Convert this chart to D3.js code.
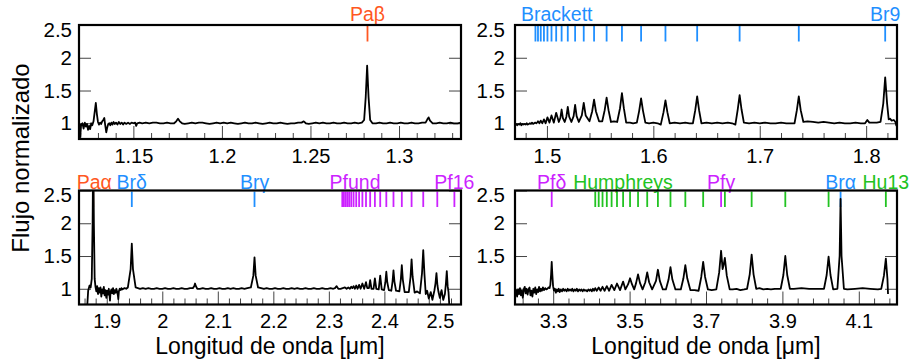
<!DOCTYPE html>
<html>
<head>
<meta charset="utf-8">
<script src="https://cdn.jsdelivr.net/npm/d3@7"></script>
<style>
  body { margin: 0; background: #fff; }
  text { font-family: "Liberation Sans", Arial, Helvetica, sans-serif; }
</style>
</head>
<body>
<svg id="chart" width="910" height="360"></svg>
<script>
// ---- data: normalised flux vs wavelength (um) ----
const specJ = [
  [1.1195,1.00],[1.1200,0.79],[1.1205,0.98],[1.1212,1.00],[1.1219,0.92],[1.1226,1.01],[1.1232,0.95],[1.1238,0.99],
  [1.1244,0.90],[1.1250,0.96],[1.1256,0.91],[1.1262,1.00],[1.1268,0.97],[1.1275,1.03],[1.1282,1.18],[1.1288,1.31],
  [1.1294,1.14],[1.1300,1.02],[1.1306,0.98],[1.1312,1.01],[1.1318,0.99],[1.1324,1.03],[1.1330,1.05],[1.1336,1.08],
  [1.1341,0.97],[1.1347,0.86],[1.1352,0.93],[1.1358,0.99],[1.1364,1.00],[1.1370,0.97],[1.1376,1.01],[1.1382,0.98],
  [1.1388,1.02],[1.1395,0.99],[1.1402,1.01],[1.1410,0.98],[1.1418,1.02],[1.1426,0.99],[1.1434,1.01],[1.1442,0.98],
  [1.1450,1.01],[1.1460,0.99],[1.1470,1.01],[1.1480,0.99],[1.1490,1.01],[1.1500,1.00],[1.1510,1.01],[1.1516,0.96],
  [1.1522,1.00],[1.1535,1.01],[1.1550,1.00],[1.1570,1.01],[1.1590,1.00],[1.1610,1.01],[1.1630,1.01],[1.1650,1.00],
  [1.1670,1.00],[1.1690,1.01],[1.1710,1.00],[1.1730,1.00],[1.1742,1.03],[1.1752,1.07],[1.1762,1.03],[1.1775,1.00],
  [1.1790,0.99],[1.1810,1.00],[1.1830,1.01],[1.1850,1.00],[1.1870,1.01],[1.1890,1.01],[1.1910,1.00],[1.1930,0.99],
  [1.1950,1.00],[1.1970,1.01],[1.1990,1.00],[1.2010,1.01],[1.2030,1.00],[1.2050,1.01],[1.2070,1.00],[1.2090,0.99],
  [1.2110,1.00],[1.2130,1.01],[1.2150,1.00],[1.2170,1.00],[1.2190,1.01],[1.2210,1.00],[1.2230,0.99],[1.2250,1.00],
  [1.2270,1.01],[1.2290,1.00],[1.2310,1.00],[1.2330,1.01],[1.2350,1.00],[1.2370,0.99],[1.2390,1.00],[1.2410,1.00],
  [1.2430,1.01],[1.2450,1.01],[1.2462,1.03],[1.2474,1.00],[1.2490,0.99],[1.2510,1.00],[1.2530,1.01],[1.2550,1.00],
  [1.2570,1.01],[1.2590,1.00],[1.2610,1.00],[1.2630,1.01],[1.2650,1.00],[1.2670,1.00],[1.2690,1.01],[1.2710,1.00],
  [1.2730,1.00],[1.2750,1.01],[1.2770,1.00],[1.2790,1.01],[1.2803,1.05],[1.2812,1.40],[1.2820,1.88],[1.2828,1.40],
  [1.2837,1.05],[1.2850,1.00],[1.2870,1.00],[1.2890,1.01],[1.2910,1.00],[1.2930,1.00],[1.2950,1.01],[1.2970,1.00],
  [1.2990,1.00],[1.3010,1.01],[1.3030,1.00],[1.3050,1.00],[1.3070,1.01],[1.3090,1.00],[1.3110,1.00],[1.3130,1.01],
  [1.3150,1.01],[1.3160,1.06],[1.3167,1.09],[1.3175,1.04],[1.3190,1.00],[1.3210,1.00],[1.3230,1.01],[1.3250,1.00],
  [1.3270,1.00],[1.3290,1.01],[1.3310,1.00],[1.3330,1.00],[1.3350,1.01]
];

const specH = [
  [1.4700,0.97],[1.4710,0.99],[1.4720,0.97],[1.4730,0.99],[1.4740,0.98],[1.4750,1.00],[1.4760,0.97],[1.4770,0.99],
  [1.4780,0.98],[1.4790,0.99],[1.4800,0.98],[1.4810,1.00],[1.4820,0.98],[1.4830,0.99],[1.4840,1.00],[1.4850,0.99],
  [1.4860,1.01],[1.4870,0.99],[1.4880,1.00],[1.4890,1.01],[1.4900,1.00],[1.4908,1.01],
  [1.4916,1.03],[1.4929,1.00],[1.4942,1.04],[1.4957,1.00],[1.4972,1.06],[1.4988,1.00],[1.5005,1.09],[1.5024,1.01],
  [1.5043,1.12],[1.5065,1.01],[1.5087,1.16],[1.5112,1.02],[1.5126,1.08],[1.5138,1.21],[1.5150,1.08],[1.5167,1.02],
  [1.5183,1.10],[1.5196,1.25],[1.5209,1.10],[1.5230,1.02],[1.5251,1.11],[1.5265,1.28],[1.5279,1.11],[1.5300,1.02],
  [1.5328,1.12],[1.5346,1.31],[1.5364,1.12],[1.5400,1.03],[1.5425,1.18],[1.5443,1.36],[1.5461,1.18],[1.5490,1.03],
  [1.5520,1.03],[1.5543,1.20],[1.5561,1.39],[1.5579,1.20],[1.5602,1.02],[1.5630,1.03],[1.5660,1.02],
  [1.5687,1.23],[1.5705,1.46],[1.5723,1.23],[1.5745,1.01],[1.5780,1.01],[1.5810,1.00],[1.5845,1.01],
  [1.5867,1.19],[1.5885,1.38],[1.5903,1.19],[1.5925,1.01],[1.5960,1.00],[1.6000,1.01],[1.6040,1.00],[1.6070,0.98],
  [1.6096,1.17],[1.6114,1.35],[1.6132,1.17],[1.6154,1.00],[1.6200,1.01],[1.6250,1.00],[1.6300,1.01],[1.6340,1.00],
  [1.6372,1.00],[1.6394,1.20],[1.6412,1.41],[1.6430,1.20],[1.6452,1.00],[1.6500,1.01],[1.6550,1.00],[1.6600,1.01],
  [1.6650,1.00],[1.6700,1.01],[1.6740,1.00],[1.6771,0.98],[1.6793,1.21],[1.6811,1.43],[1.6829,1.21],[1.6851,1.01],
  [1.6900,1.00],[1.6950,1.01],[1.7000,1.00],[1.7050,1.01],[1.7100,1.00],[1.7150,1.00],[1.7200,1.01],[1.7250,1.00],
  [1.7300,1.00],[1.7327,1.00],[1.7349,1.20],[1.7367,1.41],[1.7385,1.20],[1.7410,1.02],[1.7450,1.03],[1.7500,1.02],
  [1.7550,1.01],[1.7600,1.02],[1.7650,1.01],[1.7700,1.00],[1.7750,1.01],[1.7800,1.00],[1.7850,1.00],[1.7900,1.01],
  [1.7950,1.00],[1.7990,1.00],[1.8011,1.05],[1.8030,1.01],[1.8070,1.01],[1.8100,1.01],[1.8135,1.02],[1.8161,1.30],
  [1.8179,1.70],[1.8197,1.30],[1.8212,1.06],[1.8224,1.07],[1.8240,1.04],[1.8260,1.05],[1.8275,1.02],[1.8285,0.96]
];

const specK = [
  [1.8650,0.76],[1.8665,0.97],[1.8690,1.05],[1.8710,1.02],[1.8730,1.15],[1.8745,2.00],[1.8756,3.20],[1.8768,2.00],
  [1.8782,1.15],[1.8797,1.03],[1.8812,0.96],[1.8827,1.04],[1.8842,0.92],[1.8857,1.01],[1.8872,0.94],[1.8887,1.02],
  [1.8902,0.88],[1.8917,0.99],[1.8932,0.93],[1.8947,1.03],[1.8962,0.90],[1.8977,0.98],[1.8992,0.86],[1.9007,0.97],
  [1.9022,0.91],[1.9037,1.00],[1.9050,0.89],[1.9058,0.82],[1.9068,0.95],[1.9083,0.99],[1.9098,0.93],[1.9113,1.01],
  [1.9128,0.92],[1.9143,0.98],[1.9158,0.94],[1.9173,1.00],[1.9188,0.95],[1.9200,0.90],[1.9208,0.84],[1.9218,0.96],
  [1.9233,1.00],[1.9250,0.98],[1.9265,1.01],[1.9280,0.99],[1.9300,1.00],[1.9320,1.01],[1.9350,1.00],[1.9380,1.02],
  [1.9430,1.30],[1.9451,1.69],[1.9472,1.30],[1.9520,1.02],[1.9560,1.01],[1.9600,1.00],[1.9650,1.01],[1.9700,1.00],
  [1.9750,1.01],[1.9800,1.00],[1.9850,1.00],[1.9900,1.01],[1.9950,1.00],[2.0000,1.00],[2.0050,1.01],[2.0100,1.00],
  [2.0150,1.00],[2.0200,1.01],[2.0250,1.00],[2.0300,1.00],[2.0350,1.01],[2.0400,1.00],[2.0450,1.00],[2.0500,1.01],
  [2.0550,1.01],[2.0575,1.04],[2.0590,1.08],[2.0605,1.04],[2.0630,1.00],[2.0680,1.00],[2.0730,1.01],[2.0780,1.00],
  [2.0830,1.00],[2.0880,1.01],[2.0930,1.00],[2.0980,1.00],[2.1030,1.01],[2.1080,1.00],[2.1130,1.00],[2.1180,1.01],
  [2.1230,1.00],[2.1280,1.01],[2.1330,1.00],[2.1380,1.00],[2.1430,1.01],[2.1480,1.00],[2.1530,1.01],[2.1595,1.02],
  [2.1640,1.20],[2.1661,1.48],[2.1682,1.20],[2.1725,1.02],[2.1780,1.01],[2.1830,1.00],[2.1880,1.01],[2.1930,1.00],
  [2.1980,1.00],[2.2030,1.01],[2.2080,1.00],[2.2130,1.00],[2.2180,1.01],[2.2230,1.00],[2.2280,1.00],[2.2330,1.01],
  [2.2380,1.00],[2.2430,1.01],[2.2480,1.00],[2.2530,1.00],[2.2580,1.01],[2.2630,1.00],[2.2680,1.00],[2.2730,1.01],
  [2.2780,1.00],[2.2830,1.00],[2.2880,1.01],[2.2930,1.00],[2.2980,1.00],[2.3030,1.01],[2.3080,1.00],[2.3110,1.01],
  [2.3140,1.04],[2.3170,1.00],[2.3210,1.00],[2.3250,1.01],[2.3290,1.02],[2.3320,1.00],[2.3350,1.02],[2.3380,1.00],
  [2.3403,1.03],[2.3425,1.01],[2.3445,1.04],[2.3470,1.00],[2.3493,1.05],[2.3518,1.00],[2.3545,1.06],[2.3572,1.00],
  [2.3604,1.08],[2.3636,1.00],[2.3669,1.10],[2.3692,1.01],[2.3722,1.01],[2.3744,1.13],[2.3768,1.00],[2.3805,1.00],
  [2.3829,1.16],[2.3855,1.00],[2.3898,0.99],[2.3925,1.20],[2.3952,0.99],[2.3995,0.98],[2.4018,1.10],[2.4035,1.26],
  [2.4052,1.10],[2.4080,0.98],[2.4125,0.97],[2.4147,1.11],[2.4164,1.28],[2.4181,1.11],[2.4210,0.97],[2.4270,0.96],
  [2.4296,1.14],[2.4314,1.36],[2.4332,1.14],[2.4365,0.95],[2.4440,0.95],[2.4471,1.18],[2.4490,1.45],[2.4509,1.18],
  [2.4545,0.94],[2.4590,0.96],[2.4640,0.93],[2.4678,1.24],[2.4700,1.59],[2.4722,1.22],[2.4745,0.92],[2.4770,0.97],
  [2.4800,0.85],[2.4835,0.95],[2.4865,0.83],[2.4900,0.97],[2.4920,1.08],[2.4938,1.24],[2.4956,1.05],[2.4975,0.95],
  [2.5000,0.86],[2.5030,0.98],[2.5060,0.83],[2.5090,0.92],[2.5108,1.08],[2.5124,1.27],[2.5140,1.04],[2.5155,0.95],
  [2.5170,0.74]
];

const specL = [
  [3.2000,0.94],[3.2030,0.98],[3.2055,0.88],[3.2080,0.99],[3.2105,0.92],[3.2130,1.01],[3.2155,0.90],[3.2180,0.97],
  [3.2205,0.86],[3.2230,0.99],[3.2255,1.03],[3.2280,0.93],[3.2305,1.00],[3.2330,0.91],[3.2355,0.99],[3.2380,1.02],
  [3.2405,0.90],[3.2430,0.97],[3.2455,0.88],[3.2480,1.00],[3.2505,0.94],[3.2530,1.02],[3.2555,0.92],[3.2580,0.99],
  [3.2605,0.95],[3.2630,1.03],[3.2655,0.96],[3.2680,1.00],[3.2705,0.97],[3.2730,1.02],[3.2760,0.98],[3.2790,1.01],
  [3.2820,0.99],[3.2850,1.00],[3.2880,1.02],[3.2905,1.01],[3.2925,1.06],[3.2945,1.22],[3.2961,1.41],[3.2977,1.22],
  [3.2997,1.04],[3.3020,0.97],[3.3045,1.00],[3.3070,0.94],[3.3095,0.99],[3.3120,0.96],[3.3145,1.00],[3.3170,0.95],
  [3.3200,0.99],[3.3230,0.96],[3.3260,1.00],[3.3290,0.97],[3.3320,0.99],[3.3350,0.96],[3.3380,1.00],[3.3410,0.97],
  [3.3440,0.99],[3.3470,0.97],[3.3500,1.00],[3.3530,0.96],[3.3560,0.99],[3.3590,0.97],[3.3620,1.00],[3.3650,0.96],
  [3.3680,0.99],[3.3710,0.97],[3.3740,0.99],[3.3770,0.96],[3.3800,0.99],[3.3830,0.97],[3.3860,0.98],[3.3890,0.96],
  [3.3920,0.99],[3.3950,0.97],[3.3980,0.99],[3.4010,0.96],[3.4040,1.00],[3.4070,0.97],[3.4101,1.01],[3.4140,0.97],
  [3.4191,1.02],[3.4240,0.97],[3.4291,1.03],[3.4345,0.97],[3.4403,1.04],[3.4465,0.97],[3.4529,1.06],[3.4600,0.98],
  [3.4670,1.08],[3.4750,0.98],[3.4830,1.11],[3.4890,0.99],[3.4962,1.07],[3.5012,1.16],[3.5062,1.07],[3.5120,0.99],
  [3.5171,1.09],[3.5221,1.22],[3.5271,1.09],[3.5340,0.99],[3.5411,1.10],[3.5461,1.25],[3.5511,1.10],[3.5590,0.99],
  [3.5691,1.12],[3.5741,1.29],[3.5791,1.12],[3.5870,0.99],[3.5950,0.99],[3.6020,1.14],[3.6070,1.33],[3.6120,1.14],
  [3.6200,0.99],[3.6340,0.99],[3.6409,1.16],[3.6459,1.36],[3.6509,1.16],[3.6590,0.98],[3.6700,0.98],[3.6806,0.97],
  [3.6876,1.18],[3.6926,1.41],[3.6976,1.18],[3.7050,0.99],[3.7150,0.98],[3.7270,0.99],[3.7345,1.25],[3.7395,1.58],
  [3.7435,1.30],[3.7460,1.36],[3.7494,1.47],[3.7544,1.20],[3.7620,0.99],[3.7700,0.99],[3.7800,1.00],[3.7900,0.98],
  [3.8000,0.99],[3.8075,1.00],[3.8145,1.22],[3.8195,1.52],[3.8245,1.22],[3.8315,1.00],[3.8400,1.01],[3.8500,0.99],
  [3.8600,1.00],[3.8700,0.99],[3.8800,1.00],[3.8956,1.00],[3.9026,1.21],[3.9076,1.50],[3.9126,1.21],[3.9196,1.00],
  [3.9300,1.00],[3.9500,1.01],[3.9700,1.00],[3.9900,1.00],[4.0089,1.00],[4.0159,1.21],[4.0209,1.49],[4.0259,1.21],
  [4.0329,0.99],[4.0440,1.00],[4.0498,1.50],[4.0523,2.37],[4.0548,1.50],[4.0610,1.00],[4.0700,0.99],[4.0900,1.00],
  [4.1100,1.01],[4.1300,1.00],[4.1500,0.99],[4.1588,1.00],[4.1658,1.20],[4.1708,1.46],[4.1750,1.15],[4.1765,0.92]
];

// line identifications (um)
const paschenWl  = [1.2822, 1.8756];
const brackettWl = [1.8179, 1.7367, 1.6811, 1.6412, 1.6114, 1.5885, 1.5705, 1.5561, 1.5443, 1.5346,
                    1.5265, 1.5196, 1.5138, 1.5087, 1.5043, 1.5005, 1.4972, 1.4942, 1.4916, 1.4892,
                    1.9451, 2.1661, 4.0523];
const pfundWl    = [2.5261, 2.4953, 2.4700, 2.4490, 2.4314, 2.4164, 2.4035, 2.3925, 2.3829, 2.3744,
                    2.3669, 2.3604, 2.3545, 2.3493, 2.3445, 2.3403, 2.3365, 2.3330, 2.3298, 2.3269,
                    2.3242, 3.7395, 3.2961];
const humphreysWl = [4.1708, 4.0209, 3.9076, 3.8195, 3.7494, 3.6926, 3.6459, 3.6070, 3.5741, 3.5461,
                     3.5221, 3.5012, 3.4830, 3.4670, 3.4529, 3.4403, 3.4291, 3.4191, 3.4101];

const labelsJ = [["Paβ", 1.2822, "pa"]];
const labelsH = [["Brackett", 1.5092, "br"], ["Br9", 1.8179, "br"]];
const labelsK = [["Paα", 1.8775, "pa"], ["Brδ", 1.9451, "br"], ["Brγ", 2.1661, "br"], ["Pfund", 2.3471, "pf"], ["Pf16", 2.5261, "pf"]];
const labelsL = [["Pfδ", 3.2961, "pf"], ["Humphreys", 3.4827, "hu"], ["Pfγ", 3.7395, "pf"], ["Brα", 4.0523, "br"], ["Hu13", 4.1708, "hu"]];

const xTicksJ = [1.15, 1.2, 1.25, 1.3];
const xTicksH = [1.5, 1.6, 1.7, 1.8];
const xTicksK = [1.9, 2, 2.1, 2.2, 2.3, 2.4, 2.5];
const xTicksL = [3.3, 3.5, 3.7, 3.9, 4.1];
const yTicks = [1, 1.5, 2, 2.5];

const colors = { pa: "#ff5722", br: "#1f8fff", pf: "#cc22ff", hu: "#22c322" };

// ---- layout ----
const svg = d3.select("#chart");
svg.append("rect").attr("width", 910).attr("height", 360).attr("fill", "#fff");

const panels = [
  { spec: specJ, dom: [1.1193, 1.335], x0: 79, x1: 461, y0: 25, y1: 139, ticks: xTicksJ, minor: [1.12, 1.335, 0.01], labels: labelsJ, labY: 20.7, yPad: 7, xTitle: false },
  { spec: specH, dom: [1.470, 1.829], x0: 515, x1: 897, y0: 25, y1: 139, ticks: xTicksH, minor: [1.48, 1.829, 0.02], labels: labelsH, labY: 20.7, yPad: 10, xTitle: false },
  { spec: specK, dom: [1.850, 2.538], x0: 79, x1: 461, y0: 190.5, y1: 304.5, ticks: xTicksK, minor: [1.86, 2.538, 0.02], labels: labelsK, labY: 188.5, yPad: 7, xTitle: true },
  { spec: specL, dom: [3.2, 4.2], x0: 515, x1: 897, y0: 190.5, y1: 304.5, ticks: xTicksL, minor: [3.22, 4.2, 0.04], labels: labelsL, labY: 188.5, yPad: 10, xTitle: true }
];

const series = [
  { wl: paschenWl, c: colors.pa },
  { wl: brackettWl, c: colors.br },
  { wl: pfundWl, c: colors.pf },
  { wl: humphreysWl, c: colors.hu }
];

panels.forEach((p, i) => {
  const x = d3.scaleLinear().domain(p.dom).range([p.x0, p.x1]);
  const y = d3.scaleLinear().domain([0.76, 2.5]).range([p.y1, p.y0]);
  const g = svg.append("g");

  const clipId = "clip" + i;
  svg.append("clipPath").attr("id", clipId)
    .append("rect").attr("x", p.x0).attr("y", p.y0).attr("width", p.x1 - p.x0).attr("height", p.y1 - p.y0);

  // minor x ticks
  const minor = d3.range(p.minor[0], p.minor[1], p.minor[2])
    .map(v => +v.toFixed(3))
    .filter(v => !p.ticks.some(t => Math.abs(t - v) < 1e-6));
  g.append("g").attr("transform", `translate(0,${p.y1})`)
    .call(d3.axisBottom(x).tickValues(minor).tickSize(-6).tickFormat(""))
    .call(a => a.select(".domain").remove())
    .call(a => a.selectAll("line").attr("stroke", "#444"));

  // major x ticks + labels
  g.append("g").attr("transform", `translate(0,${p.y1})`)
    .call(d3.axisBottom(x).tickValues(p.ticks).tickSize(-13).tickPadding(9.5).tickFormat(d => String(d)))
    .call(a => a.select(".domain").remove())
    .call(a => a.selectAll("line").attr("stroke", "#444"))
    .call(a => a.selectAll("text").attr("font-size", 20).attr("fill", "#000")
      .attr("font-family", '"Liberation Sans", Arial, sans-serif'));

  // left y ticks + labels
  g.append("g").attr("transform", `translate(${p.x0},0)`)
    .call(d3.axisLeft(y).tickValues(yTicks).tickSize(-12).tickPadding(p.yPad).tickFormat(d => String(d)))
    .call(a => a.select(".domain").remove())
    .call(a => a.selectAll("line").attr("stroke", "#444"))
    .call(a => a.selectAll("text").attr("font-size", 20.5).attr("fill", "#000")
      .attr("font-family", '"Liberation Sans", Arial, sans-serif')
      .attr("dy", d => d === 2.5 ? "0.55em" : "0.32em"));

  // right y ticks
  g.append("g").attr("transform", `translate(${p.x1},0)`)
    .call(d3.axisRight(y).tickValues(yTicks).tickSize(-12).tickFormat(""))
    .call(a => a.select(".domain").remove())
    .call(a => a.selectAll("line").attr("stroke", "#444"));

  // line markers
  series.forEach(s => {
    g.selectAll(null)
      .data(s.wl.filter(w => w > p.dom[0] && w < p.dom[1]))
      .enter().append("line")
      .attr("x1", d => x(d)).attr("x2", d => x(d))
      .attr("y1", p.y0 + 1).attr("y2", p.y0 + 16.5)
      .attr("stroke", s.c).attr("stroke-width", 1.8);
  });

  // marker labels
  g.selectAll(null).data(p.labels).enter().append("text")
    .attr("x", d => x(d[1])).attr("y", p.labY)
    .attr("text-anchor", "middle")
    .attr("font-size", 19.5)
    .attr("fill", d => colors[d[2]])
    .text(d => d[0]);

  // spectrum
  g.append("path")
    .datum(p.spec)
    .attr("clip-path", `url(#${clipId})`)
    .attr("fill", "none")
    .attr("stroke", "#000")
    .attr("stroke-width", 1.8)
    .attr("stroke-linejoin", "round")
    .attr("d", d3.line().x(d => x(d[0])).y(d => y(d[1])));

  // frame
  g.append("rect")
    .attr("x", p.x0).attr("y", p.y0)
    .attr("width", p.x1 - p.x0).attr("height", p.y1 - p.y0)
    .attr("fill", "none").attr("stroke", "#000").attr("stroke-width", 2.2);

  if (p.xTitle) {
    svg.append("text")
      .attr("x", (p.x0 + p.x1) / 2).attr("y", 354)
      .attr("text-anchor", "middle")
      .attr("font-size", 23)
      .text("Longitud de onda [μm]");
  }
});

svg.append("text")
  .attr("transform", "translate(29,158) rotate(-90)")
  .attr("text-anchor", "middle")
  .attr("font-size", 24)
  .text("Flujo normalizado");
</script>
</body>
</html>
